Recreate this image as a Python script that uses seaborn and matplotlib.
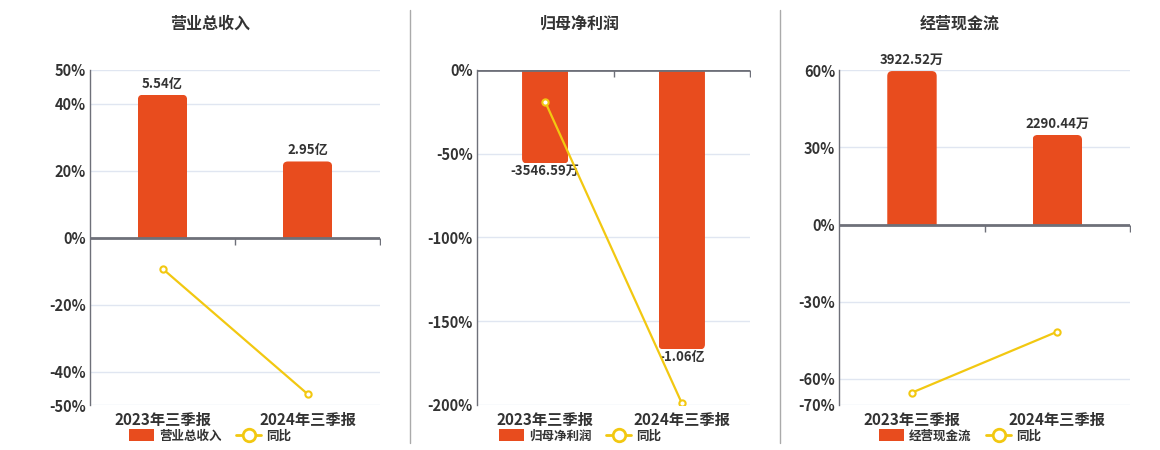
import numpy as np
import pandas as pd
import seaborn as sns
import matplotlib
matplotlib.use("Agg")
import matplotlib.pyplot as plt
from matplotlib.patches import FancyBboxPatch, Patch
from matplotlib.lines import Line2D

# ---------------- data ----------------
periods = ["2023年三季报", "2024年三季报"]

revenue_title = "营业总收入"
revenue_values = [5.54, 2.95]            # 亿
revenue_labels = ["5.54亿", "2.95亿"]
revenue_yoy = [-9.3, -46.7]              # %

profit_title = "归母净利润"
profit_values = [-3546.59, -10600.0]     # 万
profit_labels = ["-3546.59万", "-1.06亿"]
profit_yoy = [-19.1, -199.0]             # %

cash_title = "经营现金流"
cash_values = [3922.52, 2290.44]         # 万
cash_labels = ["3922.52万", "2290.44万"]
cash_yoy = [-65.3, -41.6]                # %

yoy_name = "同比"

# ---------------- style ----------------
sns.set_theme(style="white")
FONT = ["Noto Sans CJK SC", "DejaVu Sans"]
plt.rcParams["font.family"] = FONT
plt.rcParams["axes.unicode_minus"] = False

BAR = "#E84C1E"
LINE = "#F2C811"
TXT = "#333333"
AXC = "#6E7079"
GRID = "#E0E6F1"

W, H = 1160, 450
fig = plt.figure(figsize=(W / 100, H / 100), dpi=100)
fig.patch.set_facecolor("white")

panels = [
    dict(title=revenue_title, vals=revenue_values, labels=revenue_labels, yoy=revenue_yoy,
         box=(90, 70, 380, 405), plim=(-50, 50), pticks=[50, 40, 20, 0, -20, -40, -50],
         blim=(-6.5, 6.5), cx=210),
    dict(title=profit_title, vals=profit_values, labels=profit_labels, yoy=profit_yoy,
         box=(477, 70, 750, 404.7), plim=(-200, 0), pticks=[0, -50, -100, -150, -200],
         blim=(-12700, 0), cx=580),
    dict(title=cash_title, vals=cash_values, labels=cash_labels, yoy=cash_yoy,
         box=(839.3, 70.3, 1130, 404.7), plim=(-70, 60), pticks=[60, 30, 0, -30, -60, -70],
         blim=(-70 * 65.7, 60 * 65.7), cx=960),
]

for p in panels:
    x0, y0, x1, y1 = p["box"]
    rect = [x0 / W, 1 - y1 / H, (x1 - x0) / W, (y1 - y0) / H]
    wpx, hpx = x1 - x0, y1 - y0

    df = pd.DataFrame({"period": periods, "value": p["vals"], "yoy": p["yoy"]})

    # base axis: percent scale, grid, spines
    ax = fig.add_axes(rect)
    ax.set_xlim(-0.5, 1.5)
    ax.set_ylim(*p["plim"])
    ax.set_yticks(p["pticks"])
    ax.set_yticklabels([f"{t}%" for t in p["pticks"]], fontsize=10.5, color=TXT,
                       fontweight="bold")
    ax.set_xticks([0, 1])
    ax.set_xticklabels(periods, fontsize=11, color=TXT, fontweight="bold")
    ax.tick_params(axis="y", length=0, pad=3)
    ax.tick_params(axis="x", length=0, pad=5)
    ax.grid(axis="y", color=GRID, lw=1)
    ax.grid(axis="x", visible=False)
    for s in ["top", "right", "bottom"]:
        ax.spines[s].set_visible(False)
    ax.spines["left"].set_color(AXC)
    ax.spines["left"].set_linewidth(1)

    # bars
    axb = ax.twinx()
    axb.patch.set_visible(False)
    sns.barplot(data=df, x="period", y="value", ax=axb, color=BAR, saturation=1,
                width=0.34, errorbar=None)
    axb.set_xlim(-0.5, 1.5)
    axb.set_ylim(*p["blim"])
    axb.set_yticks([])
    axb.set_ylabel("")
    axb.set_xlabel("")
    for s in axb.spines.values():
        s.set_visible(False)
    xpp = 2.0 / wpx
    ypp = (p["blim"][1] - p["blim"][0]) / hpx
    r = 5
    for rc in list(axb.patches):
        bx, by = rc.get_xy()
        bw, bh = rc.get_width(), rc.get_height()
        if bh >= 0:
            ny, nh = by - r * ypp, bh + r * ypp
        else:
            ny, nh = by + bh, -bh + r * ypp
        fb = FancyBboxPatch((bx, ny), bw, nh,
                            boxstyle=f"round,pad=0,rounding_size={r * xpp}",
                            mutation_aspect=ypp / xpp, facecolor=BAR, edgecolor="none",
                            transform=axb.transData)
        axb.add_patch(fb)
        fb.set_clip_path(rc)
        rc.set_visible(False)
    cont = axb.containers[0]
    pad = 3 if p["vals"][0] >= 0 else 0.5
    axb.bar_label(cont, labels=p["labels"], padding=pad, fontsize=9.5, color=TXT,
                  fontweight="bold")

    # line layer
    axl = ax.twinx()
    axl.patch.set_visible(False)
    sns.pointplot(data=df, x="period", y="yoy", ax=axl, color=LINE, markers="o",
                  errorbar=None, markersize=4.5, linewidth=1.6,
                  markerfacecolor="white", markeredgewidth=1.5)
    axl.set_xlim(-0.5, 1.5)
    axl.set_ylim(*p["plim"])
    axl.set_yticks([])
    axl.set_ylabel("")
    axl.set_xlabel("")
    for s in axl.spines.values():
        s.set_visible(False)
    # zero axis line with category-boundary ticks
    axl.axhline(0, color=AXC, lw=2, zorder=0.5)
    axl.plot([0.5, 1.5], [0, 0], ls="none", marker=3, ms=5, mew=1, color=AXC, zorder=0.5)
    axl.tick_params(axis="x", length=0, labelbottom=False)

    # title
    fig.text(p["cx"] / W, 1 - 24 / H, p["title"], ha="center", va="center",
             fontsize=11.5, fontweight="bold", color=TXT)

    # legend
    handles = [Patch(facecolor=BAR, edgecolor="none"),
               Line2D([], [], color=LINE, lw=2, marker="o", markersize=9,
                      markerfacecolor="white", markeredgewidth=2)]
    leg = ax.legend(handles, [p["title"], yoy_name], loc="center",
                    bbox_to_anchor=(p["cx"] / W, 1 - 436 / H), bbox_transform=fig.transFigure,
                    ncol=2, frameon=False, fontsize=9, handlelength=2.0, handleheight=1.1,
                    handletextpad=0.4, columnspacing=1.2, labelcolor=TXT,
                    prop={"family": FONT, "size": 9, "weight": "bold"})

# separators
for sx in [410, 780]:
    fig.add_artist(Line2D([sx / W, sx / W], [1 - 10 / H, 1 - 443 / H],
                          color="#AAAAAA", lw=1, transform=fig.transFigure))

fig.savefig("out.png", dpi=100)
